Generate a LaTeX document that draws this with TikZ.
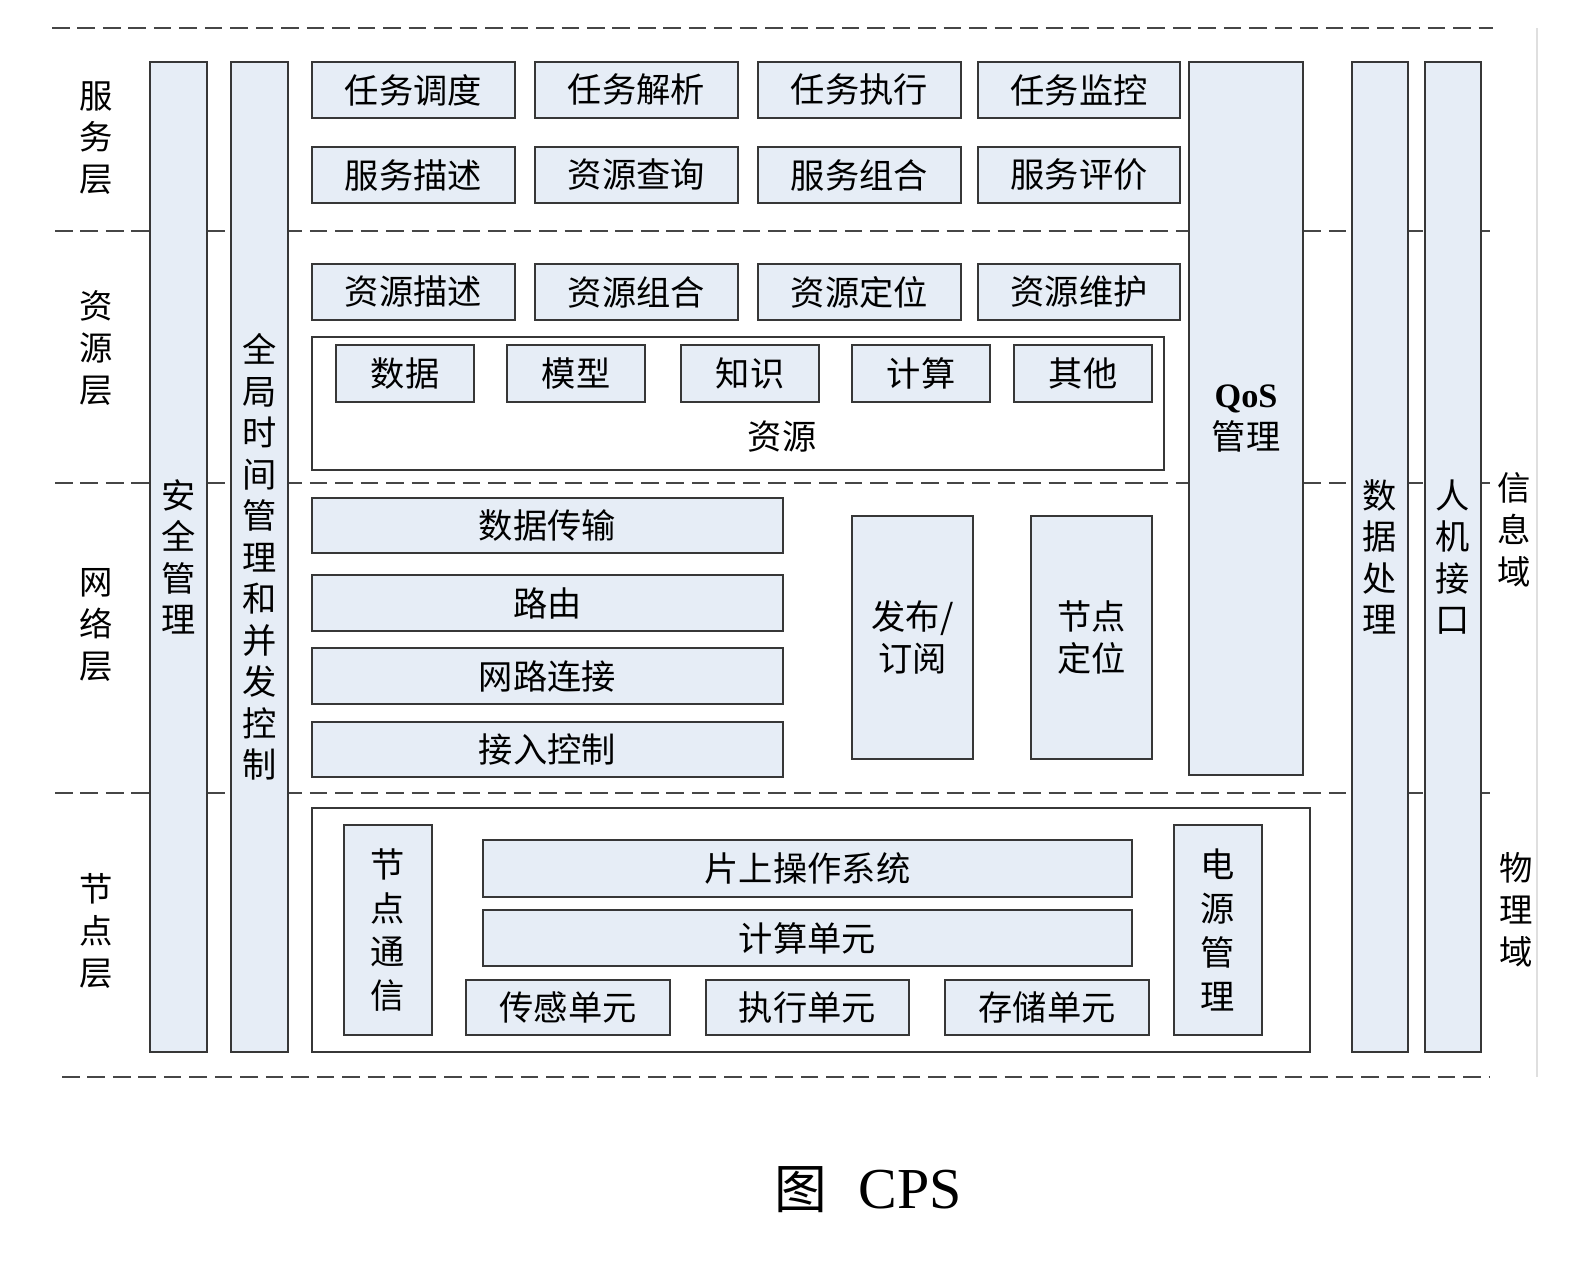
\documentclass[tikz,border=0pt]{standalone}
\usepackage{fontspec}
\setmainfont{Liberation Serif}
\newfontfamily\cjk{Noto Sans CJK SC}
\usetikzlibrary{positioning}
\definecolor{boxfill}{RGB}{230,237,246}
\definecolor{boxline}{RGB}{55,55,55}
\definecolor{dashline}{RGB}{70,70,70}

\begin{document}
\begin{tikzpicture}[x=0.02cm,y=-0.02cm,
  blk/.style 2 args={draw=boxline,line width=1.3pt,fill=boxfill,minimum width=#1*0.02cm,minimum height=#2*0.02cm,inner sep=0pt,align=center,font=\cjk\fontsize{19.5}{23.6}\selectfont},
  frame/.style 2 args={draw=boxline,line width=1.3pt,fill=white,minimum width=#1*0.02cm,minimum height=#2*0.02cm,inner sep=0pt},
  tier/.style={dashline,line width=1.6pt,dash pattern=on 10pt off 4.5pt},
  tiername/.style={align=center,font=\cjk\fontsize{19}{23.8}\selectfont}]
 \useasboundingbox (0,0) rectangle (1572,1262);
 \fill[white] (0,0) rectangle (1572,1262);
 \draw[gray!25,line width=0.6pt] (1537,28) -- (1537,1077);
 % layer borders
 \draw[tier] (52,28) -- (1493,28);
 \draw[tier] (55,231) -- (1490,231);
 \draw[tier] (55,483) -- (1490,483);
 \draw[tier] (55,793) -- (1490,793);
 \draw[tier] (62,1077) -- (1490,1077);
 % layer names
 \node[tiername] (svc) at (96,138) {服\\务\\层};
 \node[tiername] (res) at (96,348) {资\\源\\层};
 \node[tiername] (net) at (96,625) {网\\络\\层};
 \node[tiername] (nod) at (96,931) {节\\点\\层};
 \node[tiername] (info) at (1514,530) {信\\息\\域};
 \node[tiername] (phys) at (1516,910) {物\\理\\域};
 % columns
 \node[blk={57}{990}] (safe) at (178.5,557) {安\\全\\管\\理};
 \node[blk={57}{990}] (clock) at (259.5,557) {全\\局\\时\\间\\管\\理\\和\\并\\发\\控\\制};
 \node[blk={114}{713}] (qos) at (1246,418.5) {{\rmfamily\bfseries QoS}\\管理};
 \node[blk={56}{990}] (proc) at (1380,557) {数\\据\\处\\理};
 \node[blk={56}{990}] (hmi) at (1453,557) {人\\机\\接\\口};
 % service layer
 \node[blk={203}{56}] (sched) at (413.5,90) {任务调度};
 \node[blk={203}{56}] (parse) at (636.5,90) {任务解析};
 \node[blk={203}{56}] (exec) at (859.5,90) {任务执行};
 \node[blk={202}{56}] (watch) at (1079,90) {任务监控};
 \node[blk={203}{56}] (sdesc) at (413.5,175) {服务描述};
 \node[blk={203}{56}] (query) at (636.5,175) {资源查询};
 \node[blk={203}{56}] (comp) at (859.5,175) {服务组合};
 \node[blk={202}{56}] (rate) at (1079,175) {服务评价};
 % resource layer
 \node[blk={203}{56}] (rdesc) at (413.5,292) {资源描述};
 \node[blk={203}{56}] (rcomb) at (636.5,292) {资源组合};
 \node[blk={203}{56}] (rloc) at (859.5,292) {资源定位};
 \node[blk={202}{56}] (rmaint) at (1079,292) {资源维护};
 \node[frame={852}{133}] (pool) at (738,403.5) {};
 \node[font=\cjk\fontsize{19.5}{23.6}\selectfont] (poolname) at (782,437) {资源};
 \node[blk={138}{57}] (data) at (405,373.5) {数据};
 \node[blk={138}{57}] (model) at (576,373.5) {模型};
 \node[blk={138}{57}] (know) at (750,373.5) {知识};
 \node[blk={138}{57}] (calc) at (921,373.5) {计算};
 \node[blk={138}{57}] (other) at (1083,373.5) {其他};
 % network layer
 \node[blk={471}{55}] (trans) at (547.5,525.5) {数据传输};
 \node[blk={471}{56}] (route) at (547.5,603) {路由};
 \node[blk={471}{56}] (link) at (547.5,676) {网路连接};
 \node[blk={471}{55}] (access) at (547.5,749.5) {接入控制};
 \node[blk={121}{243}] (pubsub) at (912.5,637.5) {发布/\\订阅};
 \node[blk={121}{243}] (locate) at (1091.5,637.5) {节点\\定位};
 % node layer
 \node[frame={998}{244}] (nodebox) at (811,930) {};
 \node[blk={88}{210},font=\cjk\fontsize{19.5}{25}\selectfont] (comm) at (388,930) {节\\点\\通\\信};
 \node[blk={88}{210},font=\cjk\fontsize{19.5}{25}\selectfont] (power) at (1218,930) {电\\源\\管\\理};
 \node[blk={649}{57}] (os) at (807.5,868.5) {片上操作系统};
 \node[blk={649}{56}] (cpu) at (807.5,938) {计算单元};
 \node[blk={204}{55}] (sense) at (568,1007.5) {传感单元};
 \node[blk={203}{55}] (act) at (807.5,1007.5) {执行单元};
 \node[blk={204}{55}] (store) at (1047,1007.5) {存储单元};
 % caption
 \node (title) at (868,1190) {{\cjk\fontsize{30}{36}\selectfont 图}\hspace{18pt}{\fontsize{33}{38}\selectfont CPS}};
\end{tikzpicture}
\end{document}
